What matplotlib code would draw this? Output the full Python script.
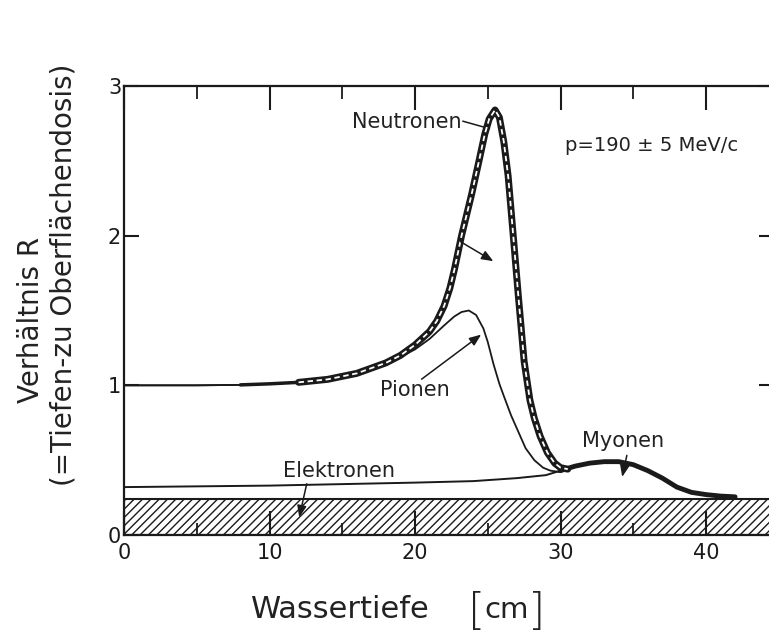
import numpy as np
import matplotlib.pyplot as plt
from matplotlib.ticker import MultipleLocator

plt.rcParams['font.family'] = ['DejaVu Sans']
plt.rcParams['hatch.linewidth'] = 1.0
plt.rcParams['text.color'] = '#222222'

# Werte (Wassertiefe in cm, Verhältnis R)
depth_n = [0, 5, 8, 10, 12, 14, 16, 18, 19, 20, 21, 21.5, 22, 22.4, 22.7, 23.2,
           23.9, 24.4, 24.8, 25.1, 25.5, 25.8, 26.1, 26.4, 26.7, 27.1, 27.5,
           27.9, 28.2, 28.6, 29.1, 29.6, 30.0, 30.5]
neutron = [1.0, 1.0, 1.003, 1.01, 1.02, 1.04, 1.08, 1.15, 1.2, 1.27, 1.36, 1.43,
           1.53, 1.65, 1.77, 2.0, 2.28, 2.5, 2.68, 2.78, 2.84, 2.79, 2.63, 2.40,
           2.06, 1.60, 1.16, 0.90, 0.78, 0.66, 0.55, 0.48, 0.45, 0.44]

depth_p = [0, 5, 8, 10, 12, 14, 16, 18, 19, 20, 21, 22, 22.7, 23.2, 23.7, 24.2,
           24.7, 25.0, 25.4, 25.8, 26.1, 26.6, 27.1, 27.6, 28.2, 28.8, 29.3, 30.0]
pion = [1.0, 1.0, 1.003, 1.01, 1.02, 1.04, 1.08, 1.14, 1.19, 1.24, 1.31, 1.40,
        1.46, 1.49, 1.50, 1.47, 1.38, 1.29, 1.14, 1.01, 0.93, 0.80, 0.69, 0.58,
        0.50, 0.45, 0.43, 0.42]

depth_e = [0, 5, 10, 15, 20, 24, 27, 29, 30]
electron = [0.32, 0.325, 0.33, 0.34, 0.35, 0.36, 0.38, 0.40, 0.43]

depth_m = [30, 31, 32, 33, 34, 35, 36, 37, 38, 39, 40, 41, 42]
muon = [0.43, 0.46, 0.48, 0.49, 0.49, 0.47, 0.43, 0.38, 0.32, 0.285, 0.27, 0.26, 0.255]

floor_level = 0.24
x_max = 44.7

ink = '#1a1a1a'

fig = plt.figure(figsize=(7.69, 6.40), dpi=100)
ax = fig.add_axes([124 / 769, 105 / 640, x_max * 14.55 / 769, 449 / 640])
ax.set_xlim(0, x_max)
ax.set_ylim(0, 3)

# schraffierter Untergrund
ax.fill_between([0, x_max], 0, floor_level, facecolor='white', edgecolor=ink,
                hatch='////', linewidth=1.5, zorder=1)

# Neutronen: dünn, dann Doppellinie
n_x = np.array(depth_n)
n_y = np.array(neutron)
ax.plot(n_x, n_y, color=ink, lw=1.3, zorder=3)
mid = (n_x >= 8) & (n_x <= 12)
ax.plot(n_x[mid], n_y[mid], color=ink, lw=2.5, solid_capstyle='round', zorder=3)
band = n_x >= 12
ax.plot(n_x[band], n_y[band], color=ink, lw=5, solid_capstyle='round',
        solid_joinstyle='round', zorder=3)
ax.plot(n_x[band], n_y[band], color='white', lw=1.3, dashes=(3, 2), zorder=4)

# Pionen
ax.plot(depth_p, pion, color=ink, lw=1.3, zorder=3)

# Elektronen und Myonen
ax.plot(depth_e, electron, color=ink, lw=1.4, zorder=3)
ax.plot(depth_m, muon, color=ink, lw=3.5, solid_capstyle='round', zorder=3)

arrow = dict(arrowstyle='-|>,head_length=0.5,head_width=0.2', color=ink, lw=1.1,
             mutation_scale=14)
ax.annotate('', xy=(25.55, 1.82), xytext=(22.95, 1.97), arrowprops=arrow, zorder=5)
ax.annotate('', xy=(24.7, 1.35), xytext=(20.3, 1.03), arrowprops=arrow, zorder=5)
ax.annotate('', xy=(12.0, 0.10), xytext=(12.6, 0.36), arrowprops=arrow, zorder=5)
ax.annotate('', xy=(34.2, 0.37), xytext=(34.6, 0.55), arrowprops=arrow, zorder=5)
ax.annotate('', xy=(25.3, 2.71), xytext=(23.1, 2.77),
            arrowprops=dict(arrowstyle='-', color=ink, lw=1.1))

ax.text(23.2, 2.76, 'Neutronen', ha='right', va='center', fontsize=15)
ax.text(30.3, 2.6, 'p=190 ± 5 MeV/c', ha='left', va='center', fontsize=14)
ax.text(20.0, 0.97, 'Pionen', ha='center', va='center', fontsize=15)
ax.text(14.8, 0.43, 'Elektronen', ha='center', va='center', fontsize=15)
ax.text(34.3, 0.63, 'Myonen', ha='center', va='center', fontsize=15)

# Achsen
for s in ax.spines.values():
    s.set_linewidth(1.6)
    s.set_color(ink)
ax.set_xticks([0, 10, 20, 30, 40])
ax.xaxis.set_minor_locator(MultipleLocator(5))
ax.tick_params(axis='x', which='major', direction='in', length=17, width=1.5,
               top=True, labelsize=15, pad=6, colors=ink)
ax.tick_params(axis='x', which='minor', direction='in', length=9, width=1.3, top=True,
               colors=ink)
ax.set_yticks([0, 1, 2, 3])
ax.tick_params(axis='y', direction='in', length=11, width=1.5, right=True,
               labelsize=15, pad=2, colors=ink)

fig.text(31 / 769, 1 - 320 / 640, 'Verhältnis R', rotation=90, ha='center',
         va='center', fontsize=20)
fig.text(64 / 769, 1 - 275 / 640, '(=Tiefen-zu Oberflächendosis)', rotation=90,
         ha='center', va='center', fontsize=20)
fig.text(340 / 769, 1 - 610 / 640, 'Wassertiefe', ha='center', va='center', fontsize=22)
fig.text(507 / 769, 1 - 610 / 640, 'cm', ha='center', va='center', fontsize=21)
fig.text(477 / 769, 1 - 612 / 640, '[', ha='center', va='center', fontsize=32,
         fontweight='light')
fig.text(537 / 769, 1 - 612 / 640, ']', ha='center', va='center', fontsize=32,
         fontweight='light')

fig.savefig('out.png', dpi=100)
